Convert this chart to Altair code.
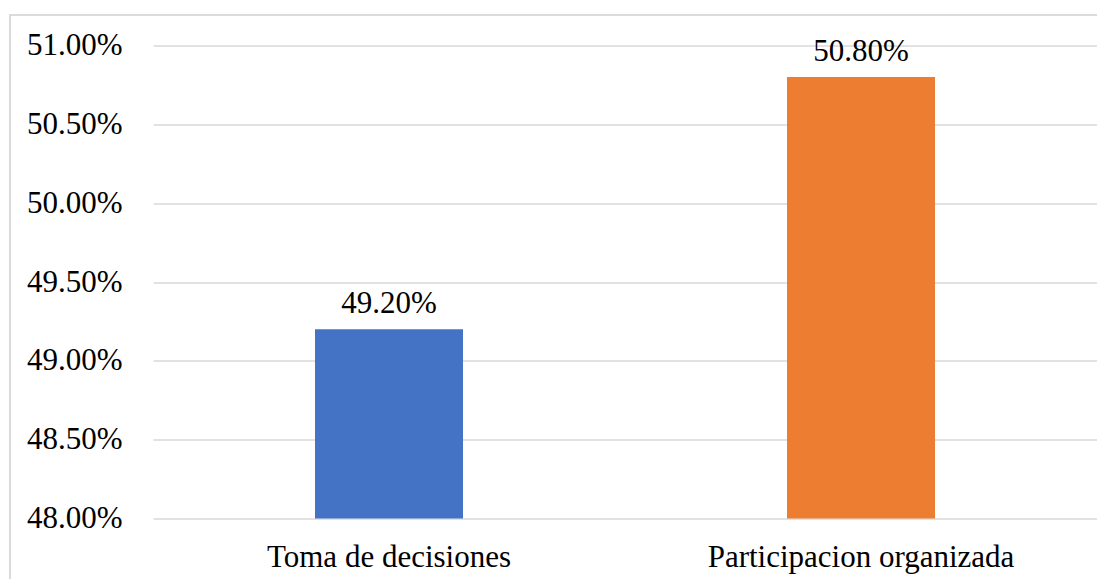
import altair as alt
import pandas as pd

categories = ["Toma de decisiones", "Participacion organizada"]
values = [0.492, 0.508]
colors = ["#4472C4", "#ED7D31"]
y_ticks = [0.48, 0.485, 0.49, 0.495, 0.50, 0.505, 0.51]

df = pd.DataFrame({"cat": categories, "val": values, "color": colors})

FONT = "Liberation Serif"
FS = 31

x = alt.X("cat:N", sort=categories, title=None,
          scale=alt.Scale(paddingInner=0, paddingOuter=0),
          axis=alt.Axis(labelAngle=0, domain=False, ticks=False, tickSize=0,
                        labelFont=FONT, labelFontSize=FS, labelColor="#000000",
                        labelBaseline="alphabetic", labelPadding=48,
                        labelLimit=600))
y = alt.Y("val:Q", title=None,
          scale=alt.Scale(domain=[0.48, 0.51], nice=False, zero=False),
          axis=alt.Axis(values=y_ticks, format=".2%", domain=False, ticks=False,
                        tickSize=0, labelFont=FONT, labelFontSize=FS,
                        labelColor="#000000", labelPadding=31,
                        gridColor="#d9d9d9", gridWidth=1.3))

bars = alt.Chart(df).mark_bar(size=148).encode(
    x=x, y=y, y2=alt.datum(0.48),
    color=alt.Color("color:N", scale=None),
)

labels = alt.Chart(df).mark_text(
    font=FONT, fontSize=FS, color="#000000", baseline="alphabetic", dy=-16
).encode(
    x=alt.X("cat:N", sort=categories),
    y=alt.Y("val:Q"),
    text=alt.Text("val:Q", format=".2%"),
)

frame = alt.Chart(df).mark_rect(fill=None, stroke="#d9d9d9", strokeWidth=1.5).encode(
    x=alt.value(-143), x2=alt.value(1100), y=alt.value(-30.5), y2=alt.value(600)
)

chart = alt.layer(frame, bars, labels).properties(
    width=944, height=473,
    autosize=alt.AutoSizeParams(type="none"),
    padding={"left": 145, "top": 37.5, "right": 0, "bottom": 60},
).configure_view(stroke=None)

chart.save("out.html", embed_options={"renderer": "svg", "actions": False})
